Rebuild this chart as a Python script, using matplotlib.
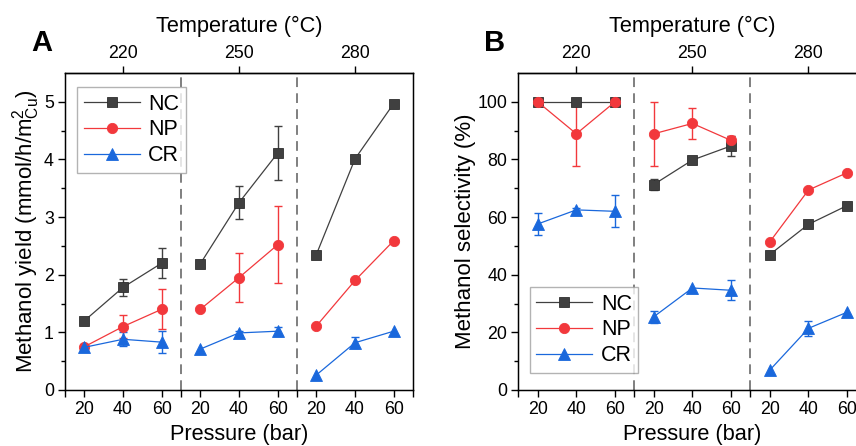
import matplotlib
matplotlib.use("Agg")
import matplotlib.pyplot as plt
import numpy as np

plt.rcParams['font.family'] = ['Liberation Sans', 'DejaVu Sans']
plt.rcParams['mathtext.default'] = 'regular'

pressures = [20, 40, 60]
temperatures = [220, 250, 280]
series = ["NC", "NP", "CR"]

# Panel A: methanol yield (mmol/h/m2_Cu), ordered 220(20,40,60), 250(...), 280(...)
yield_nc = [1.20, 1.78, 2.20, 2.19, 3.25, 4.11, 2.35, 4.01, 4.97]
yield_nc_err = [0.0, 0.15, 0.26, 0.0, 0.29, 0.47, 0.0, 0.0, 0.0]
yield_np = [0.75, 1.10, 1.40, 1.40, 1.95, 2.52, 1.11, 1.90, 2.59]
yield_np_err = [0.0, 0.20, 0.35, 0.0, 0.42, 0.67, 0.0, 0.0, 0.0]
yield_cr = [0.74, 0.88, 0.83, 0.71, 0.99, 1.02, 0.26, 0.82, 1.02]
yield_cr_err = [0.06, 0.12, 0.19, 0.0, 0.04, 0.08, 0.0, 0.10, 0.0]

# Panel B: methanol selectivity (%)
sel_nc = [100.0, 100.0, 100.0, 71.3, 79.8, 84.7, 47.0, 57.5, 64.0]
sel_nc_err = [0.0, 0.0, 0.0, 2.0, 0.0, 3.5, 0.0, 0.0, 0.0]
sel_np = [100.0, 88.9, 100.0, 88.9, 92.5, 86.6, 51.4, 69.4, 75.4]
sel_np_err = [0.0, 11.1, 0.0, 11.1, 5.4, 1.5, 0.0, 0.0, 0.0]
sel_cr = [57.6, 62.5, 62.0, 25.4, 35.4, 34.6, 6.9, 21.4, 27.0]
sel_cr_err = [3.7, 0.5, 5.5, 2.0, 0.0, 3.4, 0.0, 2.5, 0.0]

colors = {"NC": "#404040", "NP": "#f2383c", "CR": "#1a68dc"}
edge = {"NC": "#2e2e2e", "NP": "#f2383c", "CR": "#1a68dc"}
markers = {"NC": "s", "NP": "o", "CR": "^"}
msizes = {"NC": 6.8, "NP": 7.4, "CR": 8.0}

fig = plt.figure(figsize=(8.56, 4.46), dpi=100)
axA = fig.add_axes([0.0759, 0.1256, 0.4066, 0.7107])
axB = fig.add_axes([0.6055, 0.1256, 0.4068, 0.7107])

def draw(ax, data, ylim, major, minor, ylabel, legend_loc, legend_anchor):
    n = len(pressures)
    x = np.arange(len(temperatures) * n)
    handles = []
    for name, (vals, errs) in zip(series, data):
        vals = np.array(vals)
        errs = np.array(errs)
        for g in range(len(temperatures)):
            sl = slice(g * n, (g + 1) * n)
            xs, ys, es = x[sl], vals[sl], errs[sl]
            m = es > 0
            if m.any():
                ax.errorbar(xs[m], ys[m], yerr=es[m], fmt='none',
                            ecolor=colors[name], elinewidth=1.0,
                            capsize=3.2, capthick=1.0, zorder=2)
            ln, = ax.plot(xs, ys, color=colors[name], lw=0.9,
                          marker=markers[name], ms=msizes[name],
                          mfc=colors[name], mec=edge[name], mew=0.6,
                          zorder=3, label=name if g == 0 else None)
            if g == 0:
                handles.append(ln)
    for b in np.arange(n - 0.5, len(x) - 1, n):
        ax.axvline(b, color="#7f7f7f", lw=1.4, ls=(0, (5, 3.2)), zorder=1)
    ax.set_xlim(-0.5, len(x) - 0.5)
    ax.set_ylim(*ylim)
    ax.set_xticks(x)
    ax.set_xticklabels([str(p) for p in pressures] * len(temperatures))
    ax.set_xticks(np.arange(-0.5, len(x), n), minor=True)
    ax.set_yticks(major)
    ax.set_yticks(minor, minor=True)
    ax.tick_params(axis='both', which='major', direction='out', length=5,
                   width=1.0, labelsize=12.8, pad=3)
    ax.tick_params(axis='x', which='minor', direction='out', length=5, width=1.0)
    ax.tick_params(axis='y', which='minor', direction='out', length=3, width=1.0)
    for s in ax.spines.values():
        s.set_linewidth(1.0)
    ax.set_xlabel("Pressure (bar)", fontsize=15.7, labelpad=4)
    ax.set_ylabel(ylabel, fontsize=16, labelpad=1)
    top = ax.twiny()
    top.set_xlim(ax.get_xlim())
    top.set_xticks(np.arange(len(temperatures)) * n + (n - 1) / 2)
    top.set_xticklabels([str(t) for t in temperatures])
    top.tick_params(axis='x', direction='out', length=5, width=1.0,
                    labelsize=12.8, pad=3)
    top.spines['top'].set_linewidth(1.0)
    top.set_xlabel("Temperature (\u00b0C)", fontsize=15.7, labelpad=9)
    leg = ax.legend(handles=handles, loc=legend_loc, bbox_to_anchor=legend_anchor,
                    fontsize=15.5, frameon=True, fancybox=False,
                    edgecolor="#a0a0a0", handlelength=2.6, handletextpad=0.4,
                    labelspacing=0.22, borderpad=0.3, borderaxespad=0.0)
    leg.get_frame().set_linewidth(1.0)

draw(axA, [(yield_nc, yield_nc_err), (yield_np, yield_np_err), (yield_cr, yield_cr_err)],
     (0, 5.5), np.arange(0, 6, 1), np.arange(0.5, 5.5, 1),
     r"Methanol yield (mmol/h/m$^{2}_{Cu}$)", 'upper left', (0.035, 0.955))
draw(axB, [(sel_nc, sel_nc_err), (sel_np, sel_np_err), (sel_cr, sel_cr_err)],
     (0, 110), np.arange(0, 101, 20), np.arange(10, 110, 20),
     "Methanol selectivity (%)", 'lower left', (0.033, 0.055))

fig.text(0.037, 0.903, "A", fontsize=21, fontweight='bold', ha='left', va='center')
fig.text(0.565, 0.903, "B", fontsize=21, fontweight='bold', ha='left', va='center')

fig.savefig("out.png", dpi=100)
